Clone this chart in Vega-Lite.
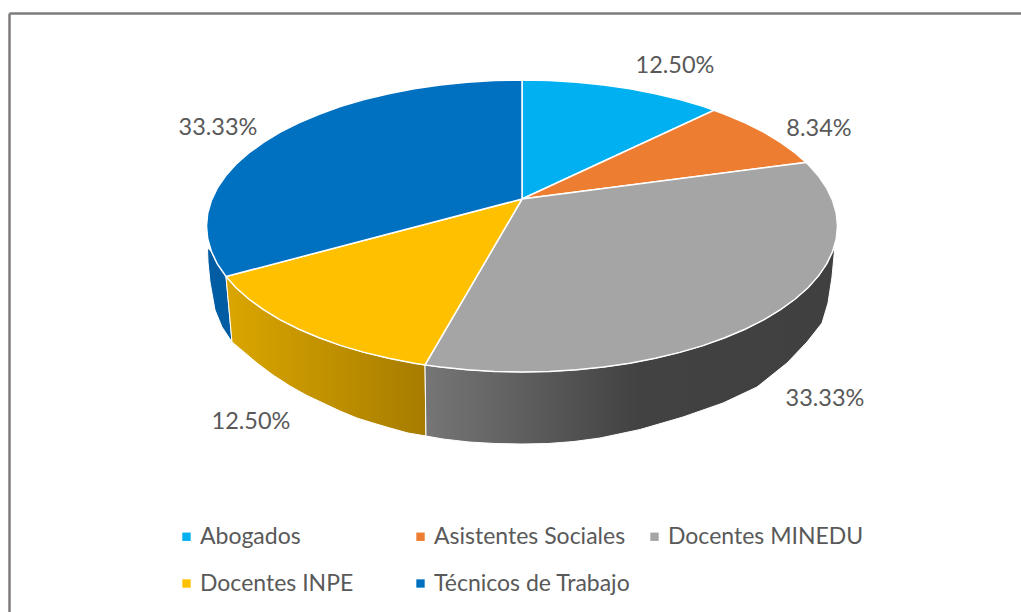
{"$schema":"https://vega.github.io/schema/vega-lite/v6.json","width":1021,"height":612,"autosize":"none","padding":0,"background":"white","view":{"stroke":null},
"datasets":{
"frame":[{"x":9.5,"y":13.5,"x2":1021,"y2":13.5},{"x":9.5,"y":13.5,"x2":9.5,"y2":612}],
"slices":[{"category":"Abogados","share":0.125,"lx":675,"ly":66},{"category":"Asistentes Sociales","share":0.0834,"lx":819,"ly":129},{"category":"Docentes MINEDU","share":0.3333,"lx":825,"ly":399},{"category":"Docentes INPE","share":0.125,"lx":251,"ly":422},{"category":"Técnicos de Trabajo","share":0.3333,"lx":218,"ly":128}],
"side":[
{"s":"b","i":0,"x":226,"y":276.5},{"s":"b","i":1,"x":217.3,"y":263.8},{"s":"b","i":2,"x":211.3,"y":251.3},{"s":"b","i":3,"x":207.5,"y":248},{"s":"b","i":4,"x":208,"y":262},{"s":"b","i":5,"x":210,"y":282},{"s":"b","i":6,"x":215,"y":310},{"s":"b","i":7,"x":222,"y":327},{"s":"b","i":8,"x":232,"y":342},{"s":"b","i":9,"x":226,"y":276.5},
{"s":"g","i":0,"x":425,"y":364.9},{"s":"g","i":1,"x":414.1,"y":363.2},{"s":"g","i":2,"x":388.7,"y":358.3},{"s":"g","i":3,"x":364.2,"y":352.4},{"s":"g","i":4,"x":341,"y":345.6},{"s":"g","i":5,"x":319.2,"y":337.8},{"s":"g","i":6,"x":298.9,"y":329.2},{"s":"g","i":7,"x":280.3,"y":319.8},{"s":"g","i":8,"x":263.5,"y":309.7},{"s":"g","i":9,"x":248.8,"y":299},{"s":"g","i":10,"x":236,"y":287.7},{"s":"g","i":11,"x":226,"y":276.5},{"s":"g","i":12,"x":232,"y":342},{"s":"g","i":13,"x":244,"y":352},{"s":"g","i":14,"x":257,"y":363},{"s":"g","i":15,"x":273,"y":375},{"s":"g","i":16,"x":290,"y":386},{"s":"g","i":17,"x":306,"y":395},{"s":"g","i":18,"x":323,"y":403},{"s":"g","i":19,"x":340,"y":411},{"s":"g","i":20,"x":357,"y":418},{"s":"g","i":21,"x":373,"y":423},{"s":"g","i":22,"x":390,"y":428},{"s":"g","i":23,"x":408,"y":433},{"s":"g","i":24,"x":426,"y":436},{"s":"g","i":25,"x":425,"y":364.9},
{"s":"m","i":0,"x":835,"y":245},{"s":"m","i":1,"x":832.7,"y":251.3},{"s":"m","i":2,"x":826.7,"y":263.8},{"s":"m","i":3,"x":818.5,"y":275.9},{"s":"m","i":4,"x":808,"y":287.7},{"s":"m","i":5,"x":795.2,"y":299},{"s":"m","i":6,"x":780.5,"y":309.7},{"s":"m","i":7,"x":763.7,"y":319.8},{"s":"m","i":8,"x":745.1,"y":329.2},{"s":"m","i":9,"x":724.8,"y":337.8},{"s":"m","i":10,"x":703,"y":345.6},{"s":"m","i":11,"x":679.8,"y":352.4},{"s":"m","i":12,"x":655.3,"y":358.3},{"s":"m","i":13,"x":629.9,"y":363.2},{"s":"m","i":14,"x":603.7,"y":367},{"s":"m","i":15,"x":576.8,"y":369.8},{"s":"m","i":16,"x":549.5,"y":371.4},{"s":"m","i":17,"x":522,"y":372},{"s":"m","i":18,"x":494.5,"y":371.4},{"s":"m","i":19,"x":467.2,"y":369.8},{"s":"m","i":20,"x":440.3,"y":367},{"s":"m","i":21,"x":425,"y":364.9},{"s":"m","i":22,"x":426,"y":436},{"s":"m","i":23,"x":443,"y":439},{"s":"m","i":24,"x":469,"y":442},{"s":"m","i":25,"x":495,"y":443.5},{"s":"m","i":26,"x":522,"y":444},{"s":"m","i":27,"x":548,"y":443.5},{"s":"m","i":28,"x":574,"y":441.5},{"s":"m","i":29,"x":600,"y":438},{"s":"m","i":30,"x":640,"y":429.5},{"s":"m","i":31,"x":683,"y":417},{"s":"m","i":32,"x":723,"y":403},{"s":"m","i":33,"x":757,"y":387},{"s":"m","i":34,"x":787,"y":363},{"s":"m","i":35,"x":807,"y":342},{"s":"m","i":36,"x":822,"y":323},{"s":"m","i":37,"x":828,"y":303},{"s":"m","i":38,"x":832,"y":277},{"s":"m","i":39,"x":835,"y":245}
],
"top":[
{"c":"Abogados","i":0,"x":522,"y":199},{"c":"Abogados","i":1,"x":522,"y":80},{"c":"Abogados","i":2,"x":549.5,"y":80.6},{"c":"Abogados","i":3,"x":576.8,"y":82.2},{"c":"Abogados","i":4,"x":603.7,"y":85},{"c":"Abogados","i":5,"x":629.9,"y":88.8},{"c":"Abogados","i":6,"x":655.3,"y":93.7},{"c":"Abogados","i":7,"x":679.8,"y":99.6},{"c":"Abogados","i":8,"x":703,"y":106.4},{"c":"Abogados","i":9,"x":714,"y":110.2},{"c":"Abogados","i":10,"x":522,"y":199},
{"c":"Asistentes Sociales","i":0,"x":522,"y":199},{"c":"Asistentes Sociales","i":1,"x":714,"y":110.2},{"c":"Asistentes Sociales","i":2,"x":724.8,"y":114.2},{"c":"Asistentes Sociales","i":3,"x":745.1,"y":122.8},{"c":"Asistentes Sociales","i":4,"x":763.7,"y":132.2},{"c":"Asistentes Sociales","i":5,"x":780.5,"y":142.3},{"c":"Asistentes Sociales","i":6,"x":795.2,"y":153},{"c":"Asistentes Sociales","i":7,"x":806,"y":162.4},{"c":"Asistentes Sociales","i":8,"x":522,"y":199},
{"c":"Docentes MINEDU","i":0,"x":522,"y":199},{"c":"Docentes MINEDU","i":1,"x":806,"y":162.4},{"c":"Docentes MINEDU","i":2,"x":808,"y":164.3},{"c":"Docentes MINEDU","i":3,"x":818.5,"y":176.1},{"c":"Docentes MINEDU","i":4,"x":826.7,"y":188.2},{"c":"Docentes MINEDU","i":5,"x":832.7,"y":200.7},{"c":"Docentes MINEDU","i":6,"x":836.3,"y":213.3},{"c":"Docentes MINEDU","i":7,"x":837.5,"y":226},{"c":"Docentes MINEDU","i":8,"x":836.3,"y":238.7},{"c":"Docentes MINEDU","i":9,"x":832.7,"y":251.3},{"c":"Docentes MINEDU","i":10,"x":826.7,"y":263.8},{"c":"Docentes MINEDU","i":11,"x":818.5,"y":275.9},{"c":"Docentes MINEDU","i":12,"x":808,"y":287.7},{"c":"Docentes MINEDU","i":13,"x":795.2,"y":299},{"c":"Docentes MINEDU","i":14,"x":780.5,"y":309.7},{"c":"Docentes MINEDU","i":15,"x":763.7,"y":319.8},{"c":"Docentes MINEDU","i":16,"x":745.1,"y":329.2},{"c":"Docentes MINEDU","i":17,"x":724.8,"y":337.8},{"c":"Docentes MINEDU","i":18,"x":703,"y":345.6},{"c":"Docentes MINEDU","i":19,"x":679.8,"y":352.4},{"c":"Docentes MINEDU","i":20,"x":655.3,"y":358.3},{"c":"Docentes MINEDU","i":21,"x":629.9,"y":363.2},{"c":"Docentes MINEDU","i":22,"x":603.7,"y":367},{"c":"Docentes MINEDU","i":23,"x":576.8,"y":369.8},{"c":"Docentes MINEDU","i":24,"x":549.5,"y":371.4},{"c":"Docentes MINEDU","i":25,"x":522,"y":372},{"c":"Docentes MINEDU","i":26,"x":494.5,"y":371.4},{"c":"Docentes MINEDU","i":27,"x":467.2,"y":369.8},{"c":"Docentes MINEDU","i":28,"x":440.3,"y":367},{"c":"Docentes MINEDU","i":29,"x":425,"y":364.9},{"c":"Docentes MINEDU","i":30,"x":522,"y":199},
{"c":"Docentes INPE","i":0,"x":522,"y":199},{"c":"Docentes INPE","i":1,"x":425,"y":364.9},{"c":"Docentes INPE","i":2,"x":414.1,"y":363.2},{"c":"Docentes INPE","i":3,"x":388.7,"y":358.3},{"c":"Docentes INPE","i":4,"x":364.2,"y":352.4},{"c":"Docentes INPE","i":5,"x":341,"y":345.6},{"c":"Docentes INPE","i":6,"x":319.2,"y":337.8},{"c":"Docentes INPE","i":7,"x":298.9,"y":329.2},{"c":"Docentes INPE","i":8,"x":280.3,"y":319.8},{"c":"Docentes INPE","i":9,"x":263.5,"y":309.7},{"c":"Docentes INPE","i":10,"x":248.8,"y":299},{"c":"Docentes INPE","i":11,"x":236,"y":287.7},{"c":"Docentes INPE","i":12,"x":226,"y":276.5},{"c":"Docentes INPE","i":13,"x":522,"y":199},
{"c":"Técnicos de Trabajo","i":0,"x":522,"y":199},{"c":"Técnicos de Trabajo","i":1,"x":226,"y":276.5},{"c":"Técnicos de Trabajo","i":2,"x":217.3,"y":263.8},{"c":"Técnicos de Trabajo","i":3,"x":211.3,"y":251.3},{"c":"Técnicos de Trabajo","i":4,"x":207.7,"y":238.7},{"c":"Técnicos de Trabajo","i":5,"x":206.5,"y":226},{"c":"Técnicos de Trabajo","i":6,"x":207.7,"y":213.3},{"c":"Técnicos de Trabajo","i":7,"x":211.3,"y":200.7},{"c":"Técnicos de Trabajo","i":8,"x":217.3,"y":188.2},{"c":"Técnicos de Trabajo","i":9,"x":225.5,"y":176.1},{"c":"Técnicos de Trabajo","i":10,"x":236,"y":164.3},{"c":"Técnicos de Trabajo","i":11,"x":248.8,"y":153},{"c":"Técnicos de Trabajo","i":12,"x":263.5,"y":142.3},{"c":"Técnicos de Trabajo","i":13,"x":280.3,"y":132.2},{"c":"Técnicos de Trabajo","i":14,"x":298.9,"y":122.8},{"c":"Técnicos de Trabajo","i":15,"x":319.2,"y":114.2},{"c":"Técnicos de Trabajo","i":16,"x":341,"y":106.4},{"c":"Técnicos de Trabajo","i":17,"x":364.2,"y":99.6},{"c":"Técnicos de Trabajo","i":18,"x":388.7,"y":93.7},{"c":"Técnicos de Trabajo","i":19,"x":414.1,"y":88.8},{"c":"Técnicos de Trabajo","i":20,"x":440.3,"y":85},{"c":"Técnicos de Trabajo","i":21,"x":467.2,"y":82.2},{"c":"Técnicos de Trabajo","i":22,"x":494.5,"y":80.6},{"c":"Técnicos de Trabajo","i":23,"x":522,"y":80},{"c":"Técnicos de Trabajo","i":24,"x":522,"y":199}
]},
"layer":[
{"data":{"name":"frame"},"mark":{"type":"rule","stroke":"#7f7b7b","strokeWidth":2.5},"encoding":{"x":{"field":"x","type":"quantitative","scale":{"domain":[0,1021],"nice":false,"zero":false},"axis":null},"y":{"field":"y","type":"quantitative","scale":{"domain":[612,0],"nice":false,"zero":false},"axis":null},"x2":{"field":"x2"},"y2":{"field":"y2"}}},
{"data":{"name":"side"},"transform":[{"filter":"datum.s==='b'"}],"mark":{"type":"line","fill":"#005ca3","stroke":"white","strokeWidth":1},"encoding":{"x":{"field":"x","type":"quantitative","axis":null},"y":{"field":"y","type":"quantitative","axis":null},"order":{"field":"i","type":"quantitative"}}},
{"data":{"name":"side"},"transform":[{"filter":"datum.s==='g'"}],"mark":{"type":"line","stroke":"white","strokeWidth":1,"fill":{"gradient":"linear","x1":0,"y1":0,"x2":1,"y2":0,"stops":[{"offset":0,"color":"#dba600"},{"offset":1,"color":"#a67c00"}]}},"encoding":{"x":{"field":"x","type":"quantitative","axis":null},"y":{"field":"y","type":"quantitative","axis":null},"order":{"field":"i","type":"quantitative"}}},
{"data":{"name":"side"},"transform":[{"filter":"datum.s==='m'"}],"mark":{"type":"line","stroke":"white","strokeWidth":1,"fill":{"gradient":"linear","x1":0,"y1":0,"x2":1,"y2":0,"stops":[{"offset":0,"color":"#767676"},{"offset":0.52,"color":"#424242"},{"offset":1,"color":"#404040"}]}},"encoding":{"x":{"field":"x","type":"quantitative","axis":null},"y":{"field":"y","type":"quantitative","axis":null},"order":{"field":"i","type":"quantitative"}}},
{"data":{"name":"top"},"mark":{"type":"line","stroke":"white","strokeWidth":1.5},"encoding":{"x":{"field":"x","type":"quantitative","axis":null},"y":{"field":"y","type":"quantitative","axis":null},"order":{"field":"i","type":"quantitative"},
"fill":{"field":"c","type":"nominal","scale":{"domain":["Abogados","Docentes INPE","Asistentes Sociales","Técnicos de Trabajo","Docentes MINEDU"],"range":["#00b0f0","#ffc000","#ed7d31","#0070c0","#a5a5a5"]},
"legend":{"title":null,"orient":"none","legendX":175,"legendY":525,"columns":3,"gridAlign":"all","symbolType":"square","symbolSize":70,"symbolStrokeWidth":0,"labelFont":"Lato","labelFontSize":23,"labelColor":"#595959","labelOffset":2,"labelLimit":300,"columnPadding":12,"rowPadding":23,"symbolOffset":0}}}},
{"data":{"name":"slices"},"mark":{"type":"text","font":"Lato","fontSize":23.5,"color":"#595959","align":"center","baseline":"middle"},"encoding":{"x":{"field":"lx","type":"quantitative","axis":null},"y":{"field":"ly","type":"quantitative","axis":null},"text":{"field":"share","type":"quantitative","format":".2%"}}}
]}
